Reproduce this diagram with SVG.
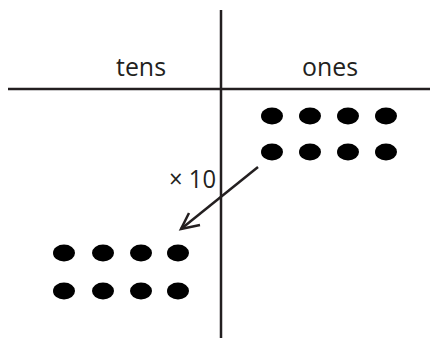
<svg xmlns="http://www.w3.org/2000/svg" width="436" height="339" viewBox="0 0 436 339">
<style>
.ln{stroke:#231f20;stroke-width:2.5;fill:none}
.dot{fill:#000}
.t{font-family:"Open Sans","Liberation Sans",sans-serif;font-size:25px;fill:#231f20}
</style>
<rect width="436" height="339" fill="#fff"/>
<g id="grid">
<line class="ln" x1="221" y1="10" x2="221" y2="338"/>
<line class="ln" x1="8" y1="89" x2="430" y2="89"/>
</g>
<g id="tens"><text class="t" x="116" y="76" textLength="50" lengthAdjust="spacingAndGlyphs">tens</text></g>
<g id="ones"><text class="t" x="302" y="76" textLength="56" lengthAdjust="spacingAndGlyphs">ones</text></g>
<g id="ones-dots">
<ellipse class="dot" cx="272" cy="116" rx="11" ry="8.5"/>
<ellipse class="dot" cx="310" cy="116" rx="11" ry="8.5"/>
<ellipse class="dot" cx="348" cy="116" rx="11" ry="8.5"/>
<ellipse class="dot" cx="386" cy="116" rx="11" ry="8.5"/>
<ellipse class="dot" cx="272" cy="152" rx="11" ry="8.5"/>
<ellipse class="dot" cx="310" cy="152" rx="11" ry="8.5"/>
<ellipse class="dot" cx="348" cy="152" rx="11" ry="8.5"/>
<ellipse class="dot" cx="386" cy="152" rx="11" ry="8.5"/>
</g>
<g id="tens-dots">
<ellipse class="dot" cx="64" cy="253" rx="11" ry="8.5"/>
<ellipse class="dot" cx="103" cy="253" rx="11" ry="8.5"/>
<ellipse class="dot" cx="141" cy="253" rx="11" ry="8.5"/>
<ellipse class="dot" cx="178" cy="253" rx="11" ry="8.5"/>
<ellipse class="dot" cx="64" cy="291" rx="11" ry="8.5"/>
<ellipse class="dot" cx="103" cy="291" rx="11" ry="8.5"/>
<ellipse class="dot" cx="141" cy="291" rx="11" ry="8.5"/>
<ellipse class="dot" cx="178" cy="291" rx="11" ry="8.5"/>
</g>
<g id="connectors">
<line class="ln" x1="258" y1="167" x2="181" y2="229"/>
<polyline class="ln" points="200,225 181,229 189,213"/>
</g>
<g id="label"><text class="t" x="169" y="188" textLength="47" lengthAdjust="spacingAndGlyphs">× 10</text></g>
</svg>
